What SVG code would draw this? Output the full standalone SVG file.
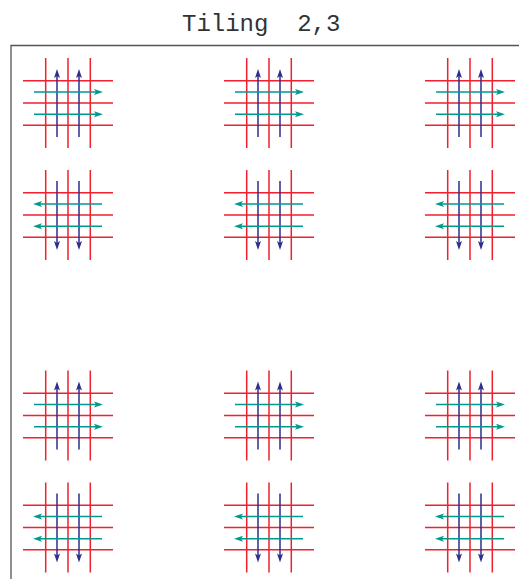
<svg xmlns="http://www.w3.org/2000/svg" width="519" height="579" viewBox="0 0 519 579">
<style>
.r{stroke:#f0202e;stroke-width:1.500;fill:none}
.b{stroke:#2e2e8c;stroke-width:1.500;fill:none}
.g{stroke:#009a8c;stroke-width:1.500;fill:none}
.bh{fill:#2e2e8c}
.gh{fill:#009a8c}
text{font-family:"Liberation Mono","Courier New",monospace;font-size:24px;fill:#333;white-space:pre}
</style>
<defs>
<g id="grid">
<path class="r" d="M45.700 58V148M68 58V148M90.300 58V148M23 80.700H113M23 103H113M23 125.300H113"/>
</g>
<g id="up">
<use href="#grid"/>
<path class="b" d="M57 137V72M79 137V72"/>
<path class="g" d="M34 92H99M34 114.300H99"/>
<path class="bh" d="M57 69l-3 9 3-2 3 2zM79 69l-3 9 3-2 3 2z"/>
<path class="gh" d="M103 92l-9-3 2 3-2 3zM103 114.300l-9-3 2 3-2 3z"/>
</g>
<g id="down">
<use href="#grid"/>
<path class="b" d="M57 69V134M79 69V134"/>
<path class="g" d="M102 92H37M102 114.300H37"/>
<path class="bh" d="M57 138l-3-9 3 2 3-2zM79 138l-3-9 3 2 3-2z"/>
<path class="gh" d="M33 92l9-3-2 3 2 3zM33 114.300l9-3-2 3 2 3z"/>
</g>
</defs>
<text x="182" y="31" xml:space="preserve">Tiling  2,3</text>
<path d="M11 579V45.500H519" fill="none" stroke="#555" stroke-width="1.300"/>
<g id="tile-1-1"><use href="#up"/></g>
<g id="tile-1-2"><use href="#up" x="201"/></g>
<g id="tile-1-3"><use href="#up" x="402"/></g>
<g id="tile-2-1"><use href="#down" y="112"/></g>
<g id="tile-2-2"><use href="#down" x="201" y="112"/></g>
<g id="tile-2-3"><use href="#down" x="402" y="112"/></g>
<g id="tile-3-1"><use href="#up" y="312.500"/></g>
<g id="tile-3-2"><use href="#up" x="201" y="312.500"/></g>
<g id="tile-3-3"><use href="#up" x="402" y="312.500"/></g>
<g id="tile-4-1"><use href="#down" y="424.500"/></g>
<g id="tile-4-2"><use href="#down" x="201" y="424.500"/></g>
<g id="tile-4-3"><use href="#down" x="402" y="424.500"/></g>
</svg>
